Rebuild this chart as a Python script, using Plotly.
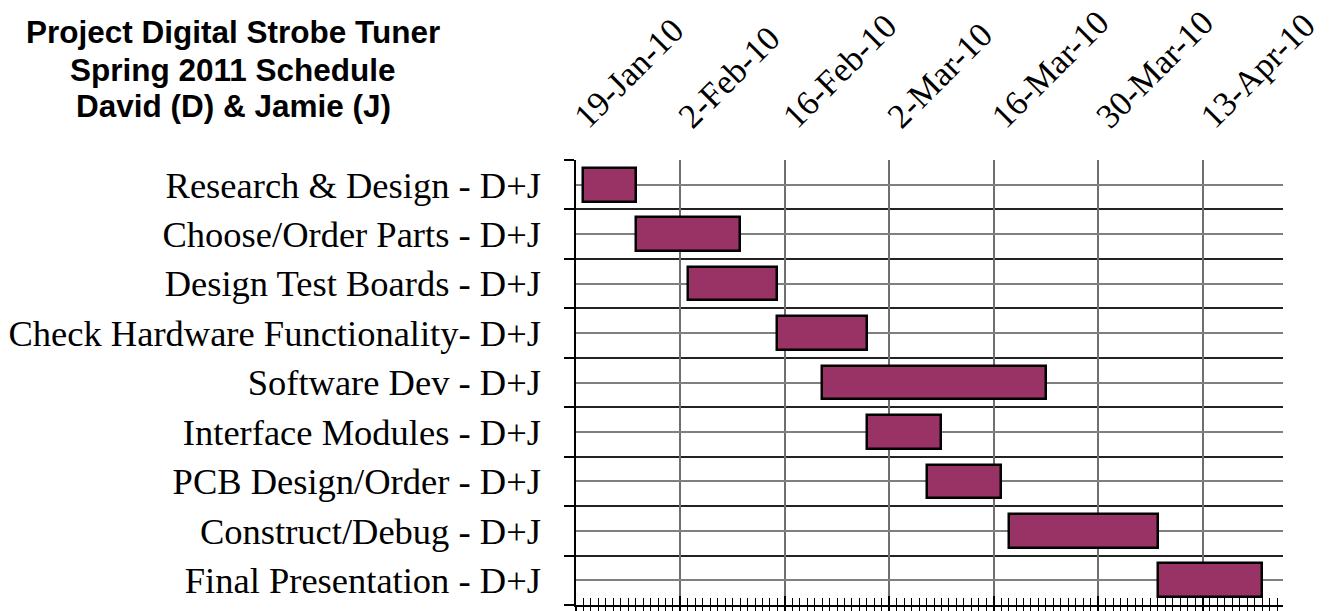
import plotly.graph_objects as go
import pandas as pd

tasks = [
    "Research & Design - D+J",
    "Choose/Order Parts - D+J",
    "Design Test Boards - D+J",
    "Check Hardware Functionality- D+J",
    "Software Dev - D+J",
    "Interface Modules - D+J",
    "PCB Design/Order - D+J",
    "Construct/Debug - D+J",
    "Final Presentation - D+J",
]
start_dates = ["2010-01-20", "2010-01-27", "2010-02-03", "2010-02-15", "2010-02-21",
               "2010-02-27", "2010-03-07", "2010-03-18", "2010-04-07"]
end_dates = ["2010-01-27", "2010-02-10", "2010-02-15", "2010-02-27", "2010-03-23",
             "2010-03-09", "2010-03-17", "2010-04-07", "2010-04-21"]
tick_dates = ["2010-01-19", "2010-02-02", "2010-02-16", "2010-03-02",
              "2010-03-16", "2010-03-30", "2010-04-13"]
tick_labels = ["19-Jan-10", "2-Feb-10", "16-Feb-10", "2-Mar-10",
               "16-Mar-10", "30-Mar-10", "13-Apr-10"]
title_lines = ["Project Digital Strobe Tuner", "Spring 2011 Schedule", "David (D) & Jamie (J)"]

starts = pd.to_datetime(start_dates)
ends = pd.to_datetime(end_dates)
durations_ms = [(e - s).total_seconds() * 1000 for s, e in zip(starts, ends)]
rows = list(range(1, len(tasks) + 1))

x_range = ["2010-01-19", "2010-04-23 19:00"]
DAY = 86400000

fig = go.Figure()
fig.add_trace(go.Bar(
    y=rows, x=durations_ms, base=[s.strftime("%Y-%m-%d") for s in starts],
    orientation="h", width=0.68,
    marker=dict(color="#993366", line=dict(color="black", width=2.5)),
    xaxis="x", yaxis="y", showlegend=False,
))
# invisible helpers so the overlay axes are drawn
for ax in ["x2", "x3"]:
    fig.add_trace(go.Scatter(x=[starts[0]], y=[1], mode="markers",
                             marker=dict(opacity=0), xaxis=ax, yaxis="y",
                             showlegend=False, hoverinfo="skip"))

title_y = [1.3317, 1.2463, 1.1654]
annotations = [dict(
    text=line, xref="paper", yref="paper",
    x=-0.4851, y=yy, xanchor="center", yanchor="top", showarrow=False,
    font=dict(family="Liberation Sans", size=31.5, color="black", weight="bold"),
) for line, yy in zip(title_lines, title_y)]

fig.update_layout(
    width=1332, height=611,
    margin=dict(l=576, r=49, t=160, b=6, autoexpand=False),
    paper_bgcolor="white", plot_bgcolor="white",
    bargap=0,
    xaxis=dict(
        type="date", range=x_range, side="bottom",
        tickvals=tick_dates, showticklabels=False,
        ticks="inside", ticklen=9, tickwidth=2, tickcolor="black",
        showgrid=True, gridcolor="#6f6f6f", gridwidth=1.5,
        showline=True, linecolor="black", linewidth=1.5,
        minor=dict(tick0="2010-01-19", dtick=DAY, ticks="inside", ticklen=7,
                   tickwidth=1, tickcolor="black", showgrid=False),
        zeroline=False,
    ),
    xaxis2=dict(
        type="date", range=x_range, overlaying="x", side="top", anchor="y",
        tickvals=tick_dates, ticktext=tick_labels, tickangle=-45,
        tickfont=dict(family="Liberation Serif", size=34.5, color="black"),
        ticks="", ticklabelstandoff=17, ticklabeloverflow="allow",
        showgrid=False, showline=False, zeroline=False,
    ),
    xaxis3=dict(
        type="date", range=x_range, overlaying="x", side="bottom", anchor="y",
        tickvals=tick_dates, showticklabels=False,
        ticks="outside", ticklen=6, tickwidth=2, tickcolor="black",
        minor=dict(tick0="2010-01-19", dtick=DAY, ticks="outside", ticklen=6,
                   tickwidth=1, tickcolor="black", showgrid=False),
        showgrid=False, showline=False, zeroline=False,
    ),
    yaxis=dict(
        range=[9.5, 0.5], tickvals=rows, ticktext=tasks,
        tickfont=dict(family="Liberation Serif", size=36.5, color="black"),
        ticks="", ticklabelstandoff=26,
        showgrid=True, gridcolor="#7f7f7f", gridwidth=1.5,
        showline=True, linecolor="black", linewidth=1.5,
        minor=dict(tickvals=[r + 0.5 for r in [0] + rows], ticks="outside",
                   ticklen=10, tickwidth=1.5, tickcolor="black",
                   showgrid=True, gridcolor="#222222", gridwidth=1.5),
        zeroline=False,
    ),
    annotations=annotations,
)

fig.write_html("out.html", config={"displayModeBar": False},
               post_script="document.body.style.margin='0';")
